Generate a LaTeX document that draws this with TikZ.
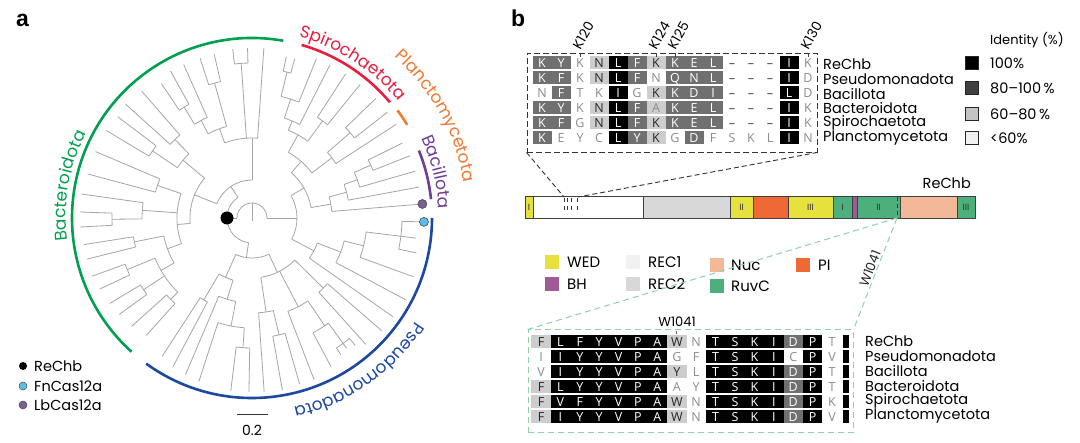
\documentclass[tikz,border=0pt]{standalone}
\usepackage{fontspec}
\setmainfont{Poppins}
\newfontfamily\alnfont{Open Sans}
\newfontfamily\panelfont{Liberation Sans}
\usetikzlibrary{decorations.text}
\definecolor{cgreen}{RGB}{0,160,80}
\definecolor{cred}{RGB}{232,30,62}
\definecolor{corange}{RGB}{242,120,50}
\definecolor{cpurple}{RGB}{112,60,150}
\definecolor{cblue}{RGB}{28,72,160}
\definecolor{cfn}{RGB}{90,190,230}
\definecolor{clb}{RGB}{120,95,150}
\definecolor{brgray}{RGB}{165,165,165}
\definecolor{dkgray}{RGB}{112,112,112}
\definecolor{ltgray}{RGB}{205,205,205}
\definecolor{txgray}{RGB}{140,140,140}
\definecolor{cwed}{RGB}{230,225,60}
\definecolor{cbh}{RGB}{160,90,150}
\definecolor{crec1}{RGB}{240,241,240}
\definecolor{crec2}{RGB}{215,216,218}
\definecolor{cnuc}{RGB}{242,184,152}
\definecolor{cruvc}{RGB}{76,175,124}
\definecolor{cpi}{RGB}{238,105,54}
\definecolor{cdash}{RGB}{140,210,170}
\definecolor{id80}{RGB}{64,64,64}
\definecolor{id60}{RGB}{196,196,196}
\definecolor{id0}{RGB}{240,240,240}
\newcommand\TN[5]{\draw[br] (#1:#2pt) -- (#1:#3pt);
  \draw[br] (#4:#3pt) arc[start angle=#4, end angle=#5, radius=#3pt];}
\newcommand\TT[3]{\draw[br] (#1:#2pt) -- (#1:#3pt);}
\newcommand\cladefont{\fontsize{17}{17}\selectfont}
\begin{document}
\begin{tikzpicture}[x=1pt,y=1pt,
  br/.style={draw=brgray, line width=0.8pt},
  clade/.style={line width=2.6pt},
  lab/.style={inner sep=0pt, anchor=west, font=\fontsize{14.5}{14.5}\selectfont},
  cellnode/.style={rectangle, inner sep=0pt, minimum height=13pt, text height=8.6pt, text depth=0pt, font=\alnfont\fontsize{12.5}{12.5}\selectfont},
  st-B/.style={fill=black,text=white},
  st-D/.style={fill=dkgray,text=white},
  st-L/.style={fill=ltgray,text=black!85},
  st-A/.style={fill=ltgray,text=txgray},
  st-W/.style={text=txgray},
  st-G/.style={text=black!75},
  legsq/.style={minimum size=14pt, inner sep=0pt},
  idsq/.style={draw=black!85, line width=0.7pt, minimum size=13pt, inner sep=0pt},
  seg/.style={draw=black!75, line width=0.8pt},
  roman/.style={inner sep=0pt, font=\fontsize{9}{9}\selectfont, text=black!80},
  ticklab/.style={rotate=60, anchor=west, inner sep=0pt, font=\fontsize{13.5}{13.5}\selectfont},
]
\useasboundingbox (0,0) rectangle (1080,-443);
\fill[white] (0,0) rectangle (1080,-443);

% panel letters
\node[font=\panelfont\bfseries\fontsize{23}{23}\selectfont, inner sep=0, anchor=base west] (pa) at (16,-27) {a};
\node[font=\panelfont\bfseries\fontsize{23}{23}\selectfont, inner sep=0, anchor=base west] (pb) at (511,-27) {b};

% ---------------- tree ----------------
\begin{scope}[shift={(252,-218)}]
\draw[br] (0:15pt) arc[start angle=0,end angle=180,radius=15pt];
\draw[br] (0,-3) -- (0,15);
\TN{180}{15}{25}{124}{262}
\TN{124}{25}{38}{90}{158}
\TN{90}{38}{80}{86}{110}
\TT{86}{80}{170}
\TN{94}{80}{155}{91.5}{96.5}
\TT{91.5}{155}{170}\TT{96.5}{155}{170}
\TN{110}{80}{95}{105.5}{117.5}
\TN{105.5}{95}{140}{103}{108}
\TT{103}{140}{168}\TT{108}{140}{168}
\TN{117.5}{95}{110}{114}{121.5}
\TT{114}{110}{168}
\TN{121.5}{110}{130}{119}{124}
\TT{119}{130}{168}\TT{124}{130}{162}
\TN{158}{38}{62}{140}{185}
\TN{140}{62}{90}{134.5}{146}
\TN{134.5}{90}{110}{131}{138}
\TT{131}{110}{168}\TT{138}{110}{170}
\TN{146}{90}{120}{143}{149}
\TT{143}{120}{168}\TT{149}{120}{170}
\TN{185}{62}{75}{161}{200}
\TN{161}{75}{100}{157}{165}
\TT{157}{100}{170}\TT{165}{100}{170}
\TN{176}{75}{110}{172}{180.5}
\TT{172}{110}{172}
\TN{180.5}{110}{140}{178}{183}
\TT{178}{140}{172}\TT{183}{140}{172}
\TN{200}{75}{90}{191.5}{210}
\TN{191.5}{90}{120}{189}{194}
\TT{189}{120}{170}\TT{194}{120}{170}
\TN{210}{90}{105}{202.5}{225}
\TN{202.5}{105}{135}{200}{205}
\TT{200}{135}{170}\TT{205}{135}{168}
\TN{213.5}{105}{130}{211}{216}
\TT{211}{130}{166}\TT{216}{130}{164}
\TN{225}{105}{115}{222}{228}
\TT{222}{115}{162}\TT{228}{115}{158}
\TN{262}{25}{40}{246}{295}
\TN{246}{40}{65}{239.5}{253}
\TN{239.5}{65}{95}{237}{242}
\TT{237}{95}{165}\TT{242}{95}{168}
\TN{253}{65}{85}{247}{259}
\TT{247}{85}{170}
\TN{259}{85}{110}{252}{266}
\TT{252}{110}{172}
\TN{266}{110}{130}{263}{269}
\TT{263}{130}{174}\TT{269}{130}{174}
\TN{295}{40}{60}{278.5}{315.5}
\TN{278.5}{60}{95}{274}{283}
\TT{274}{95}{174}
\TN{283}{95}{120}{280}{286}
\TT{280}{120}{175}\TT{286}{120}{173}
\TN{297.5}{60}{100}{291}{304}
\TT{291}{100}{173}
\TN{304}{100}{130}{298}{306}
\TT{298}{130}{168}
\TN{306}{130}{155}{303}{309}
\TT{303}{155}{163}\TT{306}{155}{161}\TT{309}{155}{164}
\TN{315.5}{60}{100}{312}{319}
\TT{312}{100}{170}\TT{319}{100}{172}
\TN{0}{15}{45}{-28}{30}
\TN{-28}{45}{70}{-35}{-21}
\TT{-35}{70}{172}
\TN{-21}{70}{95}{-28}{-14}
\TT{-28}{95}{174}
\TN{-14}{95}{115}{-20}{-7}
\TT{-20}{115}{172}
\TN{-7}{115}{150}{-12}{-1.3}
\TT{-12}{150}{168}\TT{-7}{150}{165}\TT{-1.3}{150}{171}
\TN{30}{45}{60}{10}{49}
\TN{10}{60}{80}{4.7}{15.25}
\TT{4.7}{80}{171}
\TN{15.25}{80}{98}{10.5}{20}
\TT{10.5}{98}{170}
\TN{20}{98}{112}{16}{24}
\TT{16}{112}{170}
\TN{24}{112}{130}{21.5}{26.5}
\TT{21.5}{130}{170}\TT{26.5}{130}{168}
\TN{49}{60}{75}{37}{61}
\TN{37}{75}{100}{33}{41}
\TT{33}{100}{172}
\TN{41}{100}{130}{38}{44}
\TT{38}{130}{172}\TT{44}{130}{172}
\TN{61}{75}{95}{54}{67.5}
\TN{54}{95}{120}{51}{57}
\TT{51}{120}{172}\TT{57}{120}{172}
\TN{67.5}{95}{105}{63}{72}
\TT{63}{105}{172}
\TN{72}{105}{125}{68}{76.5}
\TT{68}{125}{172}
\TN{76.5}{125}{150}{75}{78}
\TT{75}{150}{165}\TT{78}{150}{165}
% clade arcs
\draw[cgreen,clade] (80:180pt) arc[start angle=80,end angle=228,radius=180pt];
\draw[cred,clade] (40:180pt) arc[start angle=40,end angle=74,radius=180pt];
\draw[corange,clade] (31:181pt) arc[start angle=31,end angle=36.5,radius=181pt];
\draw[cpurple,clade] (6:180pt) arc[start angle=6,end angle=22,radius=180pt];
\draw[cblue,clade] (234:180pt) arc[start angle=234,end angle=360,radius=180pt];
% clade labels
\path[decorate,decoration={text along path, text align=center, text color=cgreen, text={|\cladefont|Bacteroidota}}] (205:186pt) arc[start angle=205,end angle=135,radius=186pt];
\path[decorate,decoration={text along path, text align=center, text color=cred, text={|\cladefont|Spirochaetota}}] (92:187pt) arc[start angle=92,end angle=22,radius=187pt];
\path[decorate,decoration={text along path, text align=center, text color=corange, text={|\cladefont|Planctomycetota}}] (73:215pt) arc[start angle=73,end angle=-15,radius=215pt];
\path[decorate,decoration={text along path, text align=center, text color=cpurple, text={|\cladefont|Bacillota}}] (40:187pt) arc[start angle=40,end angle=-12,radius=187pt];
\path[decorate,decoration={text along path, text align=center, text color=cblue, text={|\cladefont|Pseudomonadota}}] (-15:194pt) arc[start angle=-15,end angle=-95,radius=194pt];
% marked tips
\node[circle, fill=black, minimum size=13pt, inner sep=0] (rechbdot) at (180:25pt) {};
\node[circle, fill=clb, draw=black!70, line width=0.6pt, minimum size=9pt, inner sep=0] (lbdot) at (4.7:171pt) {};
\node[circle, fill=cfn, draw=black!70, line width=0.6pt, minimum size=9pt, inner sep=0] (fndot) at (-1.3:172pt) {};
\end{scope}

% panel a legend
\node[circle, fill=black, minimum size=8pt, inner sep=0] (lg1) at (23,-366) {};
\node[circle, fill=cfn, draw=black!70, line width=0.5pt, minimum size=8pt, inner sep=0] (lg2) at (23,-386) {};
\node[circle, fill=clb, draw=black!70, line width=0.5pt, minimum size=8pt, inner sep=0] (lg3) at (23,-405) {};
\node[lab] (lt1) at (34,-366) {ReChb};
\node[lab] (lt2) at (34,-386) {FnCas12a};
\node[lab] (lt3) at (34,-405) {LbCas12a};
% scale bar
\coordinate (sb1) at (237,-415);
\coordinate (sb2) at (268,-415);
\draw[line width=1pt, black!80] (sb1) -- (sb2);
\node[inner sep=0, font=\fontsize{14}{14}\selectfont] (sbl) at (252,-430) {0.2};

% ---------------- panel b: top alignment ----------------
\node[draw=black!80, dash pattern=on 6pt off 3pt, line width=0.9pt, minimum width=290pt, minimum height=99pt, inner sep=0] (topbox) at (672,-102.5) {};
\foreach \r/\cells in {
 0/{D/K,D/Y,W/K,L/N,B/L,D/F,L/K,D/K,D/E,D/L,G/\textendash,G/\textendash,G/\textendash,B/I,W/K},
 1/{D/K,D/F,W/K,L/N,B/L,D/F,W/N,D/Q,D/N,D/L,G/\textendash,G/\textendash,G/\textendash,B/I,W/D},
 2/{W/N,D/F,W/T,W/K,B/I,W/G,L/K,D/K,D/D,D/I,G/\textendash,G/\textendash,G/\textendash,B/L,W/D},
 3/{D/K,D/Y,W/K,L/N,B/L,D/F,A/A,D/K,D/E,D/L,G/\textendash,G/\textendash,G/\textendash,B/I,W/K},
 4/{D/K,D/F,W/G,L/N,B/L,D/F,L/K,D/K,D/E,D/L,G/\textendash,G/\textendash,G/\textendash,B/I,W/K},
 5/{D/K,W/E,W/Y,W/C,B/L,D/Y,L/K,W/G,D/D,W/F,W/S,W/K,W/L,B/I,W/N}} {
  \foreach \st/\lt [count=\i from 0] in \cells {
    \node[cellnode, st-\st, minimum width=19pt] (ta\r-\i) at ({542+19*\i},{-63-15*\r}) {\lt};
  }
}
% position ticks and labels
\foreach \x/\t in {580/K120, 656/K124, 675/K125, 808/K130} {
  \draw[black!75, line width=0.8pt] (\x,-53) -- (\x,-57);
  \node[ticklab] (kl\t) at (\x-4,-48) {\t};
}
% species labels (top)
\foreach \n/\t [count=\r from 0] in {s1/ReChb, s2/Pseudomonadota, s3/Bacillota, s4/Bacteroidota, s5/Spirochaetota, s6/Planctomycetota} {
  \node[lab] (ts\n) at (823,{-64-14.8*\r}) {\t};
}
% identity legend
\node[inner sep=0, anchor=west, font=\fontsize{13}{13}\selectfont] (idt) at (990,-40) {Identity (\%)};
\node[idsq, fill=black] (id1) at (972,-63) {};
\node[idsq, fill=id80] (id2) at (972,-88) {};
\node[idsq, fill=id60] (id3) at (972,-114) {};
\node[idsq, fill=id0] (id4) at (972,-138) {};
\node[lab] (idl1) at (990,-63) {100\%};
\node[lab] (idl2) at (990,-88) {80\textendash100\,\%};
\node[lab] (idl3) at (990,-114) {60\textendash80\,\%};
\node[lab] (idl4) at (990,-138) {<60\%};

% ---------------- domain bar ----------------
\draw[seg, fill=cwed] (525,-196) rectangle (533,-218);
\draw[seg, fill=white] (533,-196) rectangle (643,-218);
\draw[seg, fill=crec2] (643,-196) rectangle (730,-218);
\draw[seg, fill=cwed] (730,-196) rectangle (753,-218);
\draw[seg, fill=cpi] (753,-196) rectangle (788,-218);
\draw[seg, fill=cwed] (788,-196) rectangle (833,-218);
\draw[seg, fill=cruvc] (833,-196) rectangle (852,-218);
\draw[seg, fill=cbh] (852,-196) rectangle (857,-218);
\draw[seg, fill=cruvc] (857,-196) rectangle (900,-218);
\draw[seg, fill=cnuc] (900,-196) rectangle (957,-218);
\draw[seg, fill=cruvc] (957,-196) rectangle (975,-218);
\node[roman] (r1) at (529,-207) {I};
\node[roman] (r2) at (741.5,-207) {II};
\node[roman] (r3) at (810.5,-207) {III};
\node[roman] (r4) at (842.5,-207) {I};
\node[roman] (r5) at (878.5,-207) {II};
\node[roman] (r6) at (966,-207) {III};
\foreach \x in {564,567.5,571,577} {
  \draw[black!80, dash pattern=on 4pt off 4pt, line width=0.8pt] (\x,-198) -- (\x,-214);
}
\draw[black!80, dash pattern=on 4pt off 3pt, line width=0.8pt] (897,-197) -- (897,-217);
\node[inner sep=0, anchor=east, font=\fontsize{14.5}{14.5}\selectfont] (barlab) at (971,-183) {ReChb};
\coordinate (recL) at (564,-197);
\coordinate (recR) at (578,-197);
\coordinate (wtick) at (897,-218);
\draw[black!80, dash pattern=on 5pt off 3pt, line width=0.9pt] (topbox.south west) -- (recL);
\draw[black!80, dash pattern=on 5pt off 3pt, line width=0.9pt] (topbox.south east) -- (recR);

% domain legend
\node[legsq, fill=cwed] (lwed) at (552,-262) {};
\node[legsq, fill=cbh] (lbh) at (552,-284) {};
\node[legsq, fill=crec1] (lrec1) at (633,-262) {};
\node[legsq, fill=crec2] (lrec2) at (633,-284) {};
\node[legsq, fill=cnuc] (lnuc) at (717,-265) {};
\node[legsq, fill=cruvc] (lruvc) at (717,-286) {};
\node[legsq, fill=cpi] (lpi) at (803,-265) {};
\node[lab, font=\fontsize{15}{15}\selectfont] (twed) at (567,-262) {WED};
\node[lab, font=\fontsize{15}{15}\selectfont] (tbh) at (567,-284) {BH};
\node[lab, font=\fontsize{15}{15}\selectfont] (trec1) at (648,-262) {REC1};
\node[lab, font=\fontsize{15}{15}\selectfont] (trec2) at (648,-284) {REC2};
\node[lab, font=\fontsize{15}{15}\selectfont] (tnuc) at (731,-265) {Nuc};
\node[lab, font=\fontsize{15}{15}\selectfont] (truvc) at (731,-286) {RuvC};
\node[lab, font=\fontsize{15}{15}\selectfont] (tpi) at (818,-265) {PI};

% ---------------- bottom alignment ----------------
\node[draw=cdash, dash pattern=on 6pt off 4pt, line width=1pt, minimum width=325pt, minimum height=103pt, inner sep=0] (botbox) at (690.5,-381.5) {};
\draw[cdash, dash pattern=on 6pt off 4pt, line width=1pt] (wtick) -- (botbox.north west);
\draw[cdash, dash pattern=on 6pt off 4pt, line width=1pt] (wtick) -- (botbox.north east);
\node[rotate=68.6, anchor=south west, inner sep=1.5pt, text=black!85, font=\fontsize{13}{13}\selectfont] (wrot) at (868.5,-290) {W1041};
\node[inner sep=0, font=\fontsize{13}{13}\selectfont] (wlab) at (677,-322) {W1041};
\draw[black!60, line width=0.7pt] (676,-331) -- (676,-334);
\foreach \r/\cells in {
 0/{L/F,B/L,B/F,B/Y,B/V,B/P,B/A,L/W,W/N,B/T,B/S,B/K,B/I,D/D,B/P,W/T},
 1/{W/I,B/I,B/Y,B/Y,B/V,B/P,B/A,W/G,W/F,B/T,B/S,B/K,B/I,W/C,B/P,W/V},
 2/{W/V,B/I,B/Y,B/Y,B/V,B/P,B/A,L/Y,W/L,B/T,B/S,B/K,B/I,D/D,B/P,W/T},
 3/{L/F,B/L,B/Y,B/Y,B/V,B/P,B/A,W/A,W/Y,B/T,B/S,B/K,B/I,D/D,B/P,W/T},
 4/{L/F,B/V,B/F,B/Y,B/V,B/P,B/A,L/W,W/N,B/T,B/S,B/K,B/I,D/D,B/P,W/K},
 5/{L/F,B/I,B/Y,B/Y,B/V,B/P,B/A,L/W,W/N,B/T,B/S,B/K,B/I,D/D,B/P,W/V}} {
  \foreach \st/\lt [count=\i from 0] in \cells {
    \node[cellnode, st-\st, minimum width=19.4pt] (ba\r-\i) at ({541+19.4*\i},{-342-15*\r}) {\lt};
  }
  \fill[black] (843,{-335.5-15*\r}) rectangle (848.5,{-348.5-15*\r});
}
\foreach \n/\t [count=\r from 0] in {s1/ReChb, s2/Pseudomonadota, s3/Bacillota, s4/Bacteroidota, s5/Spirochaetota, s6/Planctomycetota} {
  \node[lab] (bs\n) at (865,{-341-15*\r}) {\t};
}
\end{tikzpicture}
\end{document}
